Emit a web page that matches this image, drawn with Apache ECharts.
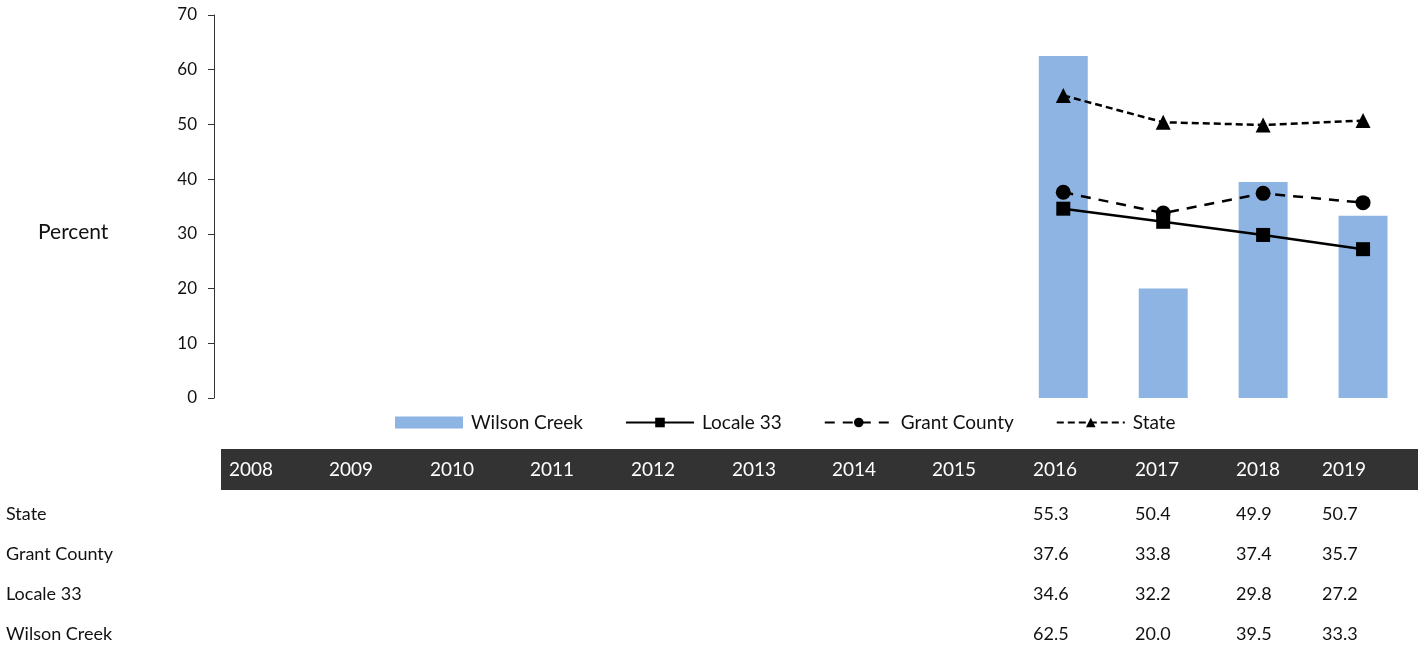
<!DOCTYPE html>
<html>
<head>
<meta charset="utf-8">
<script src="https://cdn.jsdelivr.net/npm/echarts@6/dist/echarts.min.js"></script>
<style>
  html, body { margin: 0; padding: 0; background: #fff; }
  #chart { width: 1424px; height: 648px; }
</style>
</head>
<body>
<div id="chart"></div>
<script>
const years = ['2008','2009','2010','2011','2012','2013','2014','2015','2016','2017','2018','2019'];
const wilsonCreek = [null,null,null,null,null,null,null,null,62.5,20.0,39.5,33.3];
const locale33 = [null,null,null,null,null,null,null,null,34.6,32.2,29.8,27.2];
const grantCounty = [null,null,null,null,null,null,null,null,37.6,33.8,37.4,35.7];
const stateVals = [null,null,null,null,null,null,null,null,55.3,50.4,49.9,50.7];

// table rows, top to bottom
const tableRows = [
  {name: 'State', values: stateVals},
  {name: 'Grant County', values: grantCounty},
  {name: 'Locale 33', values: locale33},
  {name: 'Wilson Creek', values: wilsonCreek}
];

const font = 'Lato, "Open Sans", sans-serif';
const colX = [229, 329, 430, 530, 631, 732, 832, 932, 1033, 1135, 1236, 1322];

const chart = echarts.init(document.getElementById('chart'));

// table drawn below the chart
const graphics = [
  {type: 'text', x: 38, y: 232,
    style: {text: 'Percent', fill: '#111', font: '21px ' + font, textVerticalAlign: 'middle'}},
  {type: 'rect', shape: {x: 221, y: 449, width: 1197, height: 41}, style: {fill: '#333333'}, silent: true}
];
years.forEach((y, i) => {
  graphics.push({type: 'text', x: colX[i], y: 470,
    style: {text: y, fill: '#ffffff', font: '19px ' + font, textVerticalAlign: 'middle'}});
});
tableRows.forEach((row, r) => {
  const cy = 514 + r * 40;
  graphics.push({type: 'text', x: 6, y: cy,
    style: {text: row.name, fill: '#111', font: '18px ' + font, textVerticalAlign: 'middle'}});
  row.values.forEach((v, i) => {
    if (v == null) return;
    graphics.push({type: 'text', x: colX[i], y: cy,
      style: {text: v.toFixed(1), fill: '#111', font: '18px ' + font, textVerticalAlign: 'middle'}});
  });
});

const option = {
  animation: false,
  textStyle: {fontFamily: font},
  grid: {left: 214, right: 11, top: 15, bottom: 250, containLabel: false},
  legend: {
    top: 413,
    left: 395,
    padding: 0,
    itemWidth: 68,
    itemHeight: 12,
    itemGap: 42,
    textStyle: {fontSize: 19, color: '#111', fontFamily: font, padding: [0, 0, 0, 3]},
    data: [
      {name: 'Wilson Creek', icon: 'rect'},
      'Locale 33', 'Grant County', 'State'
    ]
  },
  xAxis: {
    type: 'category',
    data: years,
    axisLine: {show: false},
    axisTick: {show: false},
    axisLabel: {show: false},
    splitLine: {show: false}
  },
  yAxis: {
    type: 'value',
    min: 0,
    max: 70,
    interval: 10,
    axisLine: {show: true, lineStyle: {color: '#333', width: 1}},
    axisTick: {show: true, length: 6, lineStyle: {color: '#333'}},
    axisLabel: {fontSize: 17, color: '#111', margin: 17, fontFamily: font},
    splitLine: {show: false}
  },
  series: [
    {
      name: 'Wilson Creek',
      type: 'bar',
      data: wilsonCreek,
      barWidth: '49%',
      itemStyle: {color: '#8eb4e3'}
    },
    {
      name: 'Locale 33',
      type: 'line',
      data: locale33,
      symbol: 'rect',
      symbolSize: 14,
      lineStyle: {color: '#000', width: 2.5},
      itemStyle: {color: '#000'}
    },
    {
      name: 'Grant County',
      type: 'line',
      data: grantCounty,
      symbol: 'circle',
      symbolSize: 15,
      lineStyle: {color: '#000', width: 2.5, type: [10, 8]},
      itemStyle: {color: '#000'}
    },
    {
      name: 'State',
      type: 'line',
      data: stateVals,
      symbol: 'triangle',
      symbolSize: 15,
      lineStyle: {color: '#000', width: 2.5, type: [7, 4]},
      itemStyle: {color: '#000'}
    }
  ],
  graphic: graphics
};

chart.setOption(option);
</script>
</body>
</html>
